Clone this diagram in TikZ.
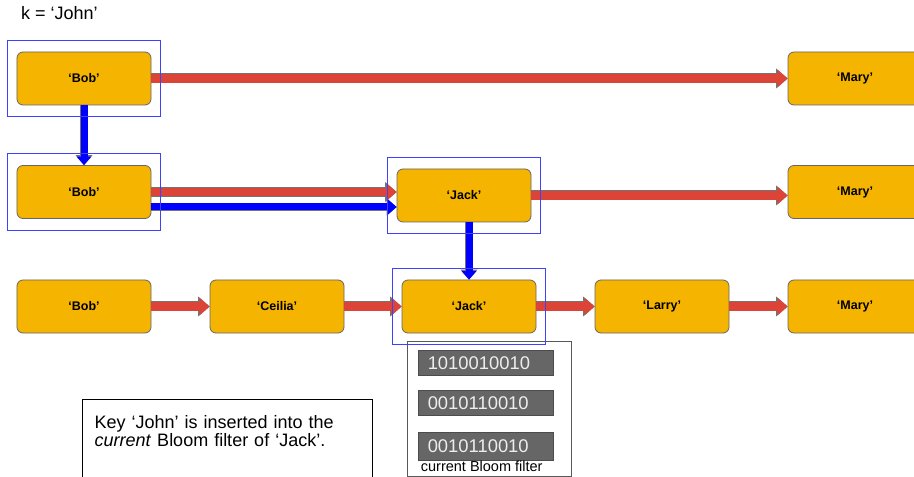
\documentclass[tikz,border=0pt]{standalone}
\usepackage{fontspec}
\setmainfont{Liberation Sans}
\usepackage{xcolor}
\usepackage{tikz}
\usetikzlibrary{arrows.meta, fit}
\definecolor{boxfill}{HTML}{F4B400}
\definecolor{boxline}{HTML}{666666}
\definecolor{redarw}{HTML}{DB4437}
\definecolor{bitbar}{HTML}{666666}
\tikzstyle{person} = [rectangle, rounded corners=6bp, minimum width=134bp, minimum height=53bp, text centered, draw=boxline, line width=0.8bp, fill=boxfill, font=\fontsize{12.5bp}{15bp}\selectfont\bfseries]
\tikzstyle{frm} = [rectangle, draw=blue!75, line width=0.9bp, inner xsep=9bp, inner ysep=11.5bp]
\tikzstyle{bits} = [rectangle, draw=black!70, fill=bitbar, minimum width=135.5bp, minimum height=25.7bp, text width=115.5bp, inner xsep=10bp, align=left, text=black!7, font=\fontsize{18.4bp}{20bp}\selectfont]
\tikzset{arw/.style={-{Triangle[width=17.5bp,length=10bp,line width=0pt]}, line width=8.5bp, draw=redarw, preaction={draw=black!55, line width=10bp, -{Triangle[width=20bp,length=11.5bp,line width=0pt]}}}}
\tikzset{blarw/.style={-{Triangle[width=15bp,length=8.5bp,line width=0pt]}, line width=7bp, draw=blue, preaction={draw=black!55, line width=8.5bp, -{Triangle[width=17bp,length=10bp,line width=0pt]}}}}

\begin{document}
\begin{tikzpicture}[x=1bp, y=-1bp, node distance=193bp]
			\path[use as bounding box, clip] (0,0) rectangle (914,477);
			\node (key) [anchor=base west, inner sep=0, font=\fontsize{18bp}{20bp}\selectfont] at (21,19.3) {k = ‘John’};
			
			% three versions of the list
			\node (bob0) [person] at (84,78.5) {‘Bob’};
			\node (mary0) [person] at (855,78.5) {‘Mary’};
			\node (bob1) [person] at (84,192) {‘Bob’};
			\node (jack1) [person] at (464,195.5) {‘Jack’};
			\node (mary1) [person] at (855,192) {‘Mary’};
			\node (bob2) [person] at (84,306.5) {‘Bob’};
			\node (ceilia) [person, right of = bob2] {‘Ceilia’};
			\node (jack2) [person, right of = ceilia, xshift = -1bp] {‘Jack’};
			\node (larry) [person, right of = jack2] {‘Larry’};
			\node (mary2) [person, right of = larry] {‘Mary’};
			
			% filters of Jack
			\node (bloom) [rectangle, draw=black!65, line width=0.8bp, minimum width=164bp, minimum height=135.5bp] at (489,408.75) {};
			\node (bar1) [bits] at (485.5,362.8) {1010010010};
			\node (bar2) [bits] at (485.5,402.8) {0010110010};
			\node (bar3) [bits, minimum height=28bp] at (485.5,445.8) {0010110010};
			\node (bloomlbl) [anchor=base west, inner sep=0, font=\fontsize{14.5bp}{16bp}\selectfont] at (420.7,471.7) {current Bloom filter};
			
			\node (note) [draw, line width=1.2bp, anchor=north west, text width=266bp, inner xsep=12bp, inner ysep=16bp, text depth=36bp, align=left, font=\fontsize{18bp}{17.5bp}\selectfont] at (82,399) {Key ‘John’ is inserted into the\\ \emph{current} Bloom filter of ‘Jack’.};
			
			\draw [arw] (bob0) -- (mary0);
			\draw [blarw] (bob0) -- (bob1);
			\draw [arw] (bob1) -- (bob1 -| jack1.west);
			\draw [blarw] ([yshift=-15bp]bob1.east) -- ([yshift=-15bp]bob1.east -| jack1.west);
			\draw [arw] (jack1) -- (jack1 -| mary1.west);
			\draw [blarw] (jack1.south -| jack2) -- (jack2);
			\draw [arw] (bob2) -- (ceilia);
			\draw [arw] (ceilia) -- (jack2);
			\draw [arw] (jack2) -- (larry);
			\draw [arw] (larry) -- (mary2);
			
			% search path
			\node (bob0f) [frm, fit = (bob0)] {};
			\node (bob1f) [frm, fit = (bob1)] {};
			\node (jack1f) [frm, fit = (jack1)] {};
			\node (jack2f) [frm, fit = (jack2)] {};
			
			
			\end{tikzpicture}
\end{document}
